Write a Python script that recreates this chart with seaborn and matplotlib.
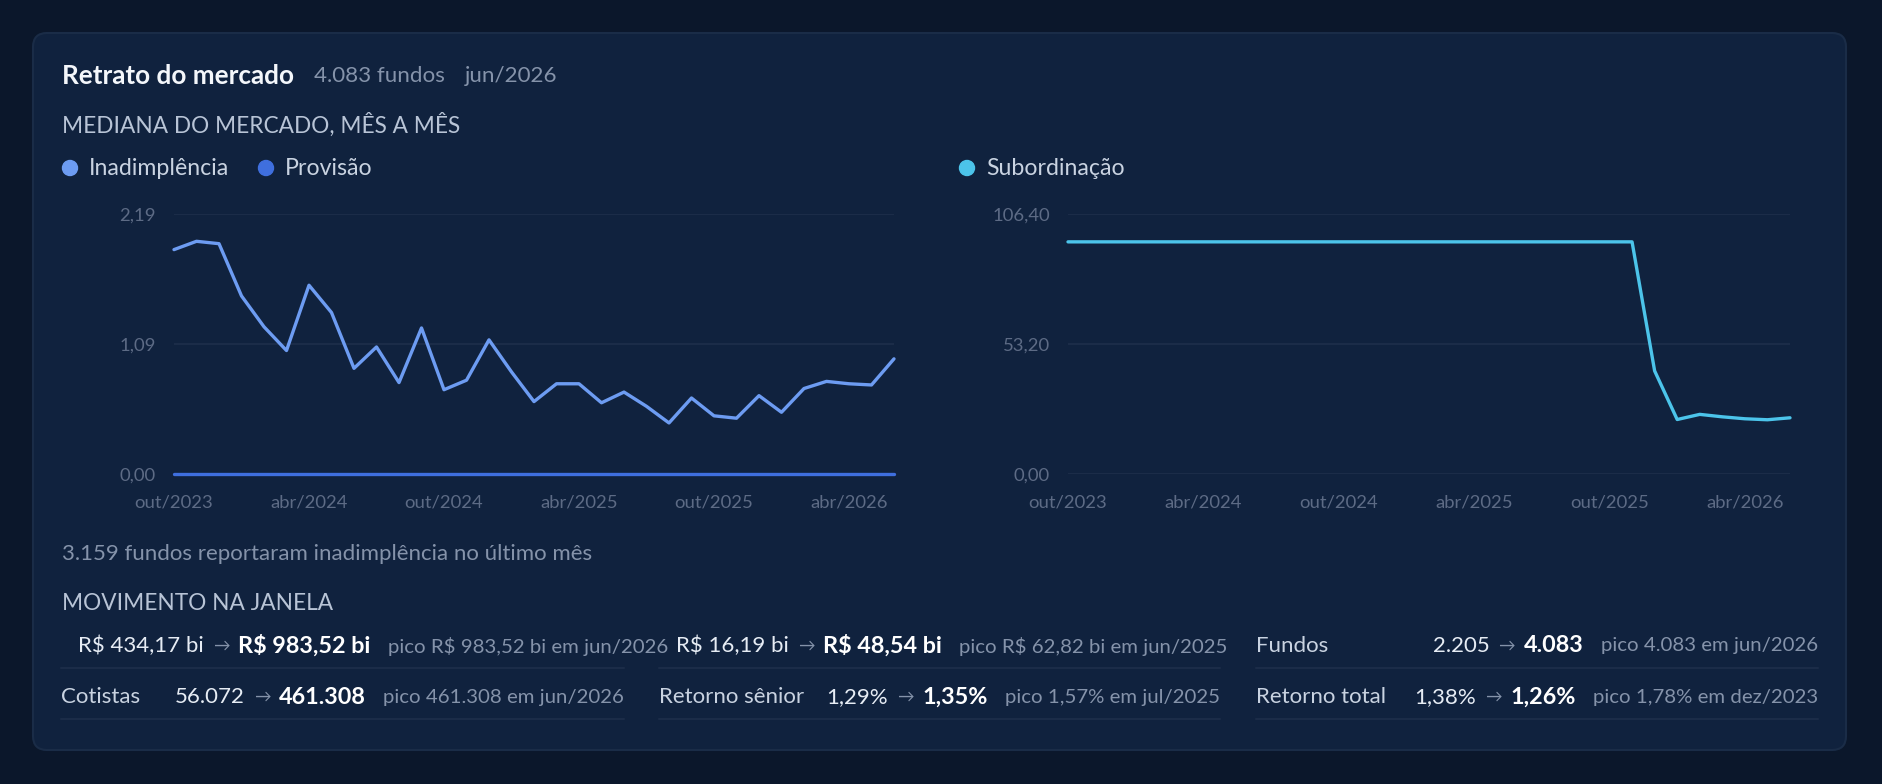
import matplotlib
matplotlib.use("Agg")
import matplotlib.pyplot as plt
from matplotlib.patches import FancyBboxPatch, Ellipse
import seaborn as sns

W, H = 1882, 784
DPI = 100

# ---- data -------------------------------------------------------------
MONTHS = [
    "out/2023", "nov/2023", "dez/2023", "jan/2024", "fev/2024", "mar/2024",
    "abr/2024", "mai/2024", "jun/2024", "jul/2024", "ago/2024", "set/2024",
    "out/2024", "nov/2024", "dez/2024", "jan/2025", "fev/2025", "mar/2025",
    "abr/2025", "mai/2025", "jun/2025", "jul/2025", "ago/2025", "set/2025",
    "out/2025", "nov/2025", "dez/2025", "jan/2026", "fev/2026", "mar/2026",
    "abr/2026", "mai/2026", "jun/2026",
]
INADIMPLENCIA = [
    1.89, 1.96, 1.94, 1.50, 1.24, 1.04, 1.59, 1.36, 0.89, 1.07, 0.77,
    1.23, 0.71, 0.79, 1.13, 0.86, 0.61, 0.76, 0.76, 0.60, 0.69, 0.57,
    0.43, 0.64, 0.49, 0.47, 0.66, 0.52, 0.72, 0.78, 0.76, 0.75, 0.97,
]
PROVISAO = [
    0.0, 0.0, 0.0, 0.0, 0.0, 0.0, 0.0, 0.0, 0.0, 0.0, 0.0,
    0.0, 0.0, 0.0, 0.0, 0.0, 0.0, 0.0, 0.0, 0.0, 0.0, 0.0,
    0.0, 0.0, 0.0, 0.0, 0.0, 0.0, 0.0, 0.0, 0.0, 0.0, 0.0,
]
SUBORDINACAO = [
    95.0, 95.0, 95.0, 95.0, 95.0, 95.0, 95.0, 95.0, 95.0, 95.0, 95.0,
    95.0, 95.0, 95.0, 95.0, 95.0, 95.0, 95.0, 95.0, 95.0, 95.0, 95.0,
    95.0, 95.0, 95.0, 95.0, 42.2, 22.3, 24.4, 23.4, 22.6, 22.2, 23.0,
]
LEFT_YTICKS = [0.0, 1.095, 2.19]
LEFT_YLABELS = ["0,00", "1,09", "2,19"]
RIGHT_YTICKS = [0.0, 53.2, 106.4]
RIGHT_YLABELS = ["0,00", "53,20", "106,40"]

# janela de movimento: (label, de, para, pico)
CELL_LABELS = ["", "", "Fundos", "Cotistas", "Retorno sênior", "Retorno total"]
CELL_FROM = ["R$ 434,17 bi", "R$ 16,19 bi", "2.205", "56.072", "1,29%", "1,38%"]
CELL_TO = ["R$ 983,52 bi", "R$ 48,54 bi", "4.083", "461.308", "1,35%", "1,26%"]
CELL_PEAK = [
    "pico R$ 983,52 bi em jun/2026", "pico R$ 62,82 bi em jun/2025",
    "pico 4.083 em jun/2026", "pico 461.308 em jun/2026",
    "pico 1,57% em jul/2025", "pico 1,78% em dez/2023",
]

# ---- style ------------------------------------------------------------
OUTER_BG = "#0b172b"
CARD_BG = "#10223e"
CARD_EDGE = "#1a2c47"
GRID = "#1b2c48"
C_INAD = "#6d9cf2"
C_PROV = "#3f6fde"
C_SUB = "#4cc4ea"
TXT_WHITE = "#f4f7fb"
TXT_VALUE = "#e6ecf4"
TXT_LIGHT = "#c9d3e1"
TXT_MUTED = "#8593aa"
TXT_TICK = "#5d6b85"

sns.set_style("dark", rc={"axes.facecolor": "none", "figure.facecolor": OUTER_BG})
plt.rcParams["font.family"] = ["Lato", "DejaVu Sans"]

fig = plt.figure(figsize=(W / DPI, H / DPI), dpi=DPI)
fig.patch.set_facecolor(OUTER_BG)

# full-figure axes in pixel coordinates (y down) for card and text
bg = fig.add_axes([0, 0, 1, 1], zorder=0)
bg.set_xlim(0, W)
bg.set_ylim(H, 0)
bg.axis("off")
bg.add_patch(FancyBboxPatch((33, 33), 1813, 717,
                            boxstyle="round,pad=0,rounding_size=14",
                            facecolor=CARD_BG, edgecolor=CARD_EDGE, lw=1.5))

fig.canvas.draw()
renderer = fig.canvas.get_renderer()


def put(x, y, s, size, color, weight="normal", ha="left"):
    t = bg.text(x, y, s, fontsize=size, color=color, fontweight=weight,
                ha=ha, va="center")
    return t.get_window_extent(renderer).width


def measure(s, size, weight="normal"):
    t = bg.text(0, 0, s, fontsize=size, fontweight=weight)
    w = t.get_window_extent(renderer).width
    t.remove()
    return w


# header
w = put(62, 76, "Retrato do mercado", 18.8, TXT_WHITE, "bold")
w2 = put(62 + w + 20, 76, "4.083 fundos", 16.1, TXT_MUTED)
put(62 + w + 20 + w2 + 20, 76, "jun/2026", 16.1, TXT_MUTED)
put(62, 125, "MEDIANA DO MERCADO, MÊS A MÊS", 16.3, "#b8c4d6")

# legends
for cx, label, color in [(70, "Inadimplência", C_INAD),
                         (266, "Provisão", C_PROV),
                         (967, "Subordinação", C_SUB)]:
    bg.add_patch(Ellipse((cx, 168), 15, 15, color=color))
    put(cx + 19, 168, label, 16.7, TXT_LIGHT)

# ---- charts -----------------------------------------------------------
xs = list(range(len(MONTHS)))
chart_top, chart_bot = 214, 474


def make_axes(x0, x1):
    ax = fig.add_axes([x0 / W, 1 - chart_bot / H, (x1 - x0) / W,
                       (chart_bot - chart_top) / H], zorder=2)
    ax.set_facecolor("none")
    for sp in ax.spines.values():
        sp.set_visible(False)
    ax.set_xlim(0, len(MONTHS) - 1)
    ax.set_xticks(xs[::6])
    ax.set_xticklabels(MONTHS[::6])
    ax.grid(False)
    ax.tick_params(axis="both", length=0, labelsize=13.3, labelcolor=TXT_TICK)
    ax.tick_params(axis="x", pad=15)
    ax.tick_params(axis="y", pad=13)
    return ax


ax1 = make_axes(174, 894)
ax1.set_ylim(0, LEFT_YTICKS[-1])
ax1.set_yticks(LEFT_YTICKS)
ax1.set_yticklabels(LEFT_YLABELS)
for yv in LEFT_YTICKS:
    ax1.axhline(yv, color=GRID, lw=1.5, zorder=0)
sns.lineplot(x=xs, y=PROVISAO, ax=ax1, color=C_PROV, lw=2.4, clip_on=False)
sns.lineplot(x=xs, y=INADIMPLENCIA, ax=ax1, color=C_INAD, lw=2.4, clip_on=False)

ax2 = make_axes(1068, 1790)
ax2.set_ylim(0, RIGHT_YTICKS[-1])
ax2.set_yticks(RIGHT_YTICKS)
ax2.set_yticklabels(RIGHT_YLABELS)
for yv in RIGHT_YTICKS:
    ax2.axhline(yv, color=GRID, lw=1.5, zorder=0)
sns.lineplot(x=xs, y=SUBORDINACAO, ax=ax2, color=C_SUB, lw=2.4, clip_on=False)
for ax in (ax1, ax2):
    ax.set_xlabel("")
    ax.set_ylabel("")

# ---- footer ------------------------------------------------------------
put(62, 554, "3.159 fundos reportaram inadimplência no último mês", 16.0, TXT_MUTED)
put(62, 604, "MOVIMENTO NA JANELA", 16.3, "#b8c4d6")

COLS = [(61, 624), (659, 1220), (1256, 1818)]
ROWS = [646, 697]
SZ = 16.0
for i, label in enumerate(CELL_LABELS):
    row, col = divmod(i, 3)
    left, right = COLS[col]
    y = ROWS[row]
    lab_w = put(left, y, label, SZ, TXT_LIGHT) if label else 0
    runs = [(CELL_FROM[i], TXT_VALUE, "normal", SZ, 9),
            ("→", TXT_MUTED, "normal", 12, 9),
            (CELL_TO[i], "#ffffff", "bold", 16.8, 17),
            (CELL_PEAK[i], TXT_MUTED, "normal", 14.7, 0)]
    total = sum(measure(s, sz, wt) + g for s, _, wt, sz, g in runs)
    x = max(right - total, left + lab_w + 17)
    for s, c, wt, sz, g in runs:
        x += put(x, y, s, sz, c, wt) + g
    bg.plot([left, right], [y + 22, y + 22], color=GRID, lw=1.5)

fig.savefig("out.png", dpi=DPI, facecolor=OUTER_BG)
